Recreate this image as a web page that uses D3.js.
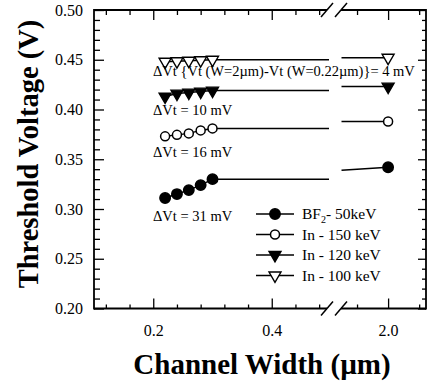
<!DOCTYPE html>
<html><head><meta charset="utf-8">
<script src="https://cdn.jsdelivr.net/npm/d3@7"></script>
<style>
html,body{margin:0;padding:0;background:#fff;}
svg{display:block;}
svg text{font-family:"Liberation Serif","Times New Roman",serif !important;fill:#000;}
</style></head>
<body><svg id="c" width="428" height="384"></svg>
<script>
// ---- data ----
const seriesNames = ["BF2- 50keV", "In - 150 keV", "In - 120 keV", "In - 100 keV"];
const seriesMarkers = ["circleFilled", "circleOpen", "triDownFilled", "triDownOpen"];
const widthsSmall = [0.22, 0.24, 0.26, 0.28, 0.30];
const vtBF2 = [0.311, 0.315, 0.319, 0.324, 0.330];
const vtIn150 = [0.373, 0.3745, 0.376, 0.379, 0.381];
const vtIn120 = [0.413, 0.416, 0.417, 0.418, 0.419];
const vtIn100 = [0.448, 0.4485, 0.449, 0.4495, 0.450];
const widthLarge = 2.0;
const vtLarge = [0.342, 0.388, 0.423, 0.452];
const breakLeftW = 0.5;
const breakRightW = 1.85;
const vtBreakLeft = [0.330, 0.381, 0.419, 0.450];
const vtBreakRight = [0.339, 0.388, 0.423, 0.452];
const yMajorTicks = [0.20, 0.25, 0.30, 0.35, 0.40, 0.45, 0.50];
const yMinorTicks = d3.range(20, 51).map(d => d / 100).filter(v => Math.round(v * 100) % 5 !== 0);
const xMajorLeft = [0.2, 0.4];
const xMinorLeft = [0.12, 0.16, 0.24, 0.28, 0.32, 0.36, 0.44, 0.48];
const xMajorRight = [2.0];
const xMinorRight = [1.9, 2.1];
const annotations = [
  {text: "\u0394Vt {Vt (W=2\u00b5m)-Vt (W=0.22\u00b5m)}= 4 mV", v: 0.4335},
  {text: "\u0394Vt = 10 mV", v: 0.3946},
  {text: "\u0394Vt = 16 mV", v: 0.3525},
  {text: "\u0394Vt = 31 mV", v: 0.2883}
];
const seriesValues = [vtBF2, vtIn150, vtIn120, vtIn100];

// ---- layout ----
const SERIF = "'Liberation Serif','Times New Roman',serif";
const L = 94, R = 426, T = 10, B = 308.5;
const gapL = 327, gapR = 341;
const svg = d3.select("#c");
const xL = d3.scaleLinear().domain([0.1, 0.5]).range([L, 331]);
const xR = d3.scaleLinear().domain([1.85, 2.122]).range([341.5, R]);
const y = d3.scaleLinear().domain([0.2, 0.5]).range([B, T]);

function ax(g, axis) {
  g.call(axis);
  g.attr("font-family", SERIF).attr("font-size", 16);
  g.select(".domain").remove();
  g.selectAll(".tick line").attr("stroke", "#000").attr("stroke-width", 1.3);
  g.selectAll(".tick text").attr("font-family", SERIF).attr("fill", "#000");
}
// bottom
ax(svg.append("g").attr("transform", `translate(0,${B})`), d3.axisBottom(xL).tickValues(xMinorLeft).tickSize(-4).tickFormat(""));
ax(svg.append("g").attr("transform", `translate(0,${B})`), d3.axisBottom(xR).tickValues(xMinorRight).tickSize(-4).tickFormat(""));
ax(svg.append("g").attr("transform", `translate(0,${B})`), d3.axisBottom(xL).tickValues(xMajorLeft).tickSize(-10).tickPadding(16).tickFormat(d3.format(".1f")));
ax(svg.append("g").attr("transform", `translate(0,${B})`), d3.axisBottom(xR).tickValues(xMajorRight).tickSize(-10).tickPadding(16).tickFormat(d3.format(".1f")));
// top
ax(svg.append("g").attr("transform", `translate(0,${T})`), d3.axisTop(xL).tickValues(xMinorLeft).tickSize(-5).tickFormat(""));
ax(svg.append("g").attr("transform", `translate(0,${T})`), d3.axisTop(xR).tickValues(xMinorRight).tickSize(-5).tickFormat(""));
ax(svg.append("g").attr("transform", `translate(0,${T})`), d3.axisTop(xL).tickValues(xMajorLeft).tickSize(-10).tickFormat(""));
ax(svg.append("g").attr("transform", `translate(0,${T})`), d3.axisTop(xR).tickValues(xMajorRight).tickSize(-10).tickFormat(""));
// left
ax(svg.append("g").attr("transform", `translate(${L},0)`), d3.axisLeft(y).tickValues(yMinorTicks).tickSize(-6).tickFormat(""));
ax(svg.append("g").attr("transform", `translate(${L},0)`), d3.axisLeft(y).tickValues(yMajorTicks).tickSize(-10).tickPadding(11).tickFormat(d3.format(".2f")));
// right
ax(svg.append("g").attr("transform", `translate(${R},0)`), d3.axisRight(y).tickValues(yMinorTicks).tickSize(-4).tickFormat(""));
ax(svg.append("g").attr("transform", `translate(${R},0)`), d3.axisRight(y).tickValues(yMajorTicks).tickSize(-8).tickFormat(""));

// frame with break
const fr = svg.append("g").attr("stroke", "#000").attr("stroke-width", 1.8).attr("fill", "none");
fr.append("line").attr("x1", L).attr("x2", L).attr("y1", T - 0.9).attr("y2", B + 0.9);
fr.append("line").attr("x1", R).attr("x2", R).attr("y1", T - 0.9).attr("y2", B + 0.9);
[T, B].forEach(yy => {
  fr.append("line").attr("x1", L).attr("x2", gapL).attr("y1", yy).attr("y2", yy);
  fr.append("line").attr("x1", gapR).attr("x2", R).attr("y1", yy).attr("y2", yy);
  [gapL, gapR].forEach(xx => {
    fr.append("line").attr("x1", xx - 6).attr("y1", yy + 7).attr("x2", xx + 6).attr("y2", yy - 7).attr("stroke-width", 1.5);
  });
});

// markers
const triSym = d3.symbol().type(d3.symbolTriangle).size(62);
function marker(g, type, cx, cy) {
  if (type.startsWith("circle")) {
    g.append("circle").attr("cx", cx).attr("cy", cy).attr("r", type === "circleOpen" ? 4.5 : 5.2)
      .attr("fill", type === "circleOpen" ? "#fff" : "#000").attr("stroke", "#000").attr("stroke-width", 1.5);
  } else {
    g.append("path").attr("d", triSym()).attr("transform", `translate(${cx},${cy}) rotate(180)`)
      .attr("fill", type === "triDownOpen" ? "#fff" : "#000").attr("stroke", "#000").attr("stroke-width", 1.4);
  }
}

const line = d3.line();
seriesValues.forEach((vals, i) => {
  const g = svg.append("g");
  const ptsL = widthsSmall.map((w, j) => [xL(w), y(vals[j])]);
  ptsL.push([xL(breakLeftW) - 2, y(vtBreakLeft[i])]);
  g.append("path").attr("d", line(ptsL)).attr("fill", "none").attr("stroke", "#000").attr("stroke-width", 1.5);
  g.append("path").attr("d", line([[xR(breakRightW), y(vtBreakRight[i])], [xR(widthLarge), y(vtLarge[i])]]))
    .attr("fill", "none").attr("stroke", "#000").attr("stroke-width", 1.5);
  widthsSmall.forEach((w, j) => marker(g, seriesMarkers[i], xL(w), y(vals[j])));
  marker(g, seriesMarkers[i], xR(widthLarge), y(vtLarge[i]));
});

// annotations
annotations.forEach(a => {
  svg.append("text").attr("x", 153).attr("y", y(a.v)).attr("font-family", SERIF).attr("font-size", 14.5).text(a.text);
});

// legend
const leg = svg.append("g");
seriesNames.forEach((n, i) => {
  const yy = 214 + i * 20.5;
  leg.append("line").attr("x1", 256).attr("x2", 294).attr("y1", yy).attr("y2", yy).attr("stroke", "#000").attr("stroke-width", 1.5);
  marker(leg, seriesMarkers[i], 275, yy);
  const t = leg.append("text").attr("x", 302).attr("y", yy + 5).attr("font-family", SERIF).attr("font-size", 15.5);
  if (n.startsWith("BF2")) {
    t.append("tspan").text("BF");
    t.append("tspan").attr("dy", 4).attr("font-size", 10).text("2");
    t.append("tspan").attr("dy", -4).text(n.slice(3));
  } else t.text(n);
});

// titles
svg.append("text").attr("x", 262).attr("y", 374).attr("text-anchor", "middle").attr("font-family", SERIF)
  .attr("font-size", 29).attr("font-weight", "bold").text("Channel Width (\u00b5m)");
svg.append("text").attr("transform", "translate(38,154) rotate(-90)").attr("text-anchor", "middle").attr("font-family", SERIF)
  .attr("font-size", 28.5).attr("font-weight", "bold").text("Threshold Voltage (V)");
</script></body></html>
